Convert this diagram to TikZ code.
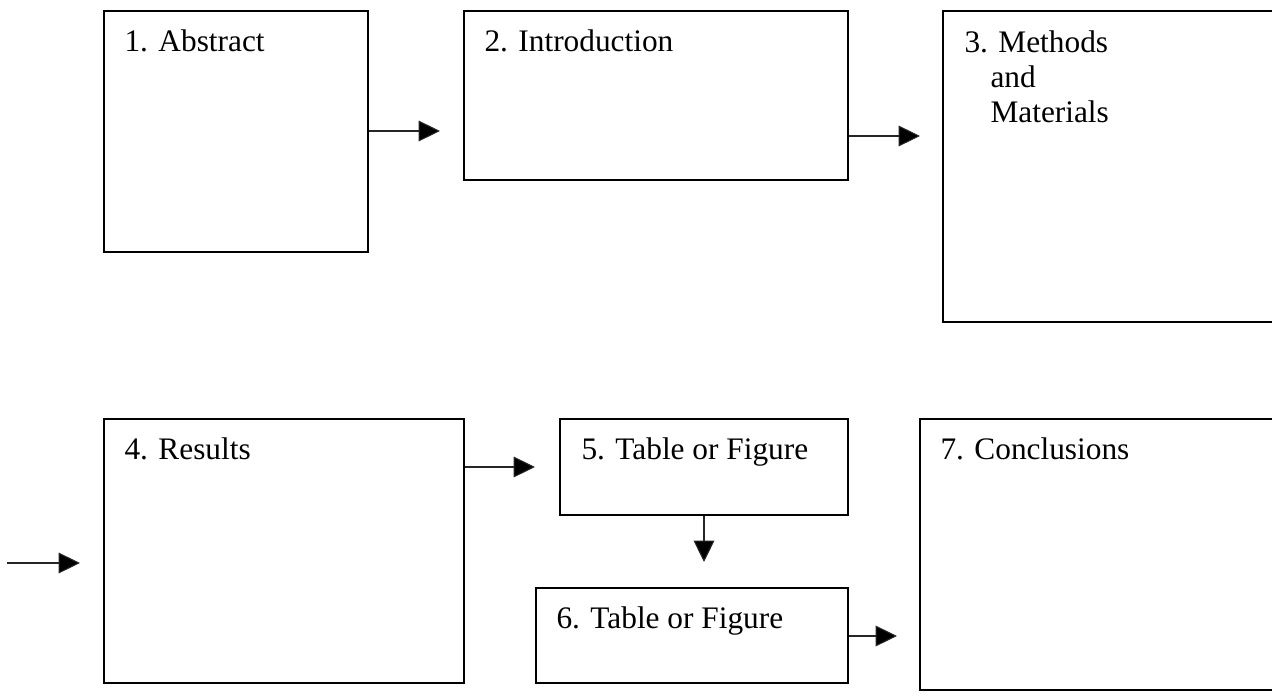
\documentclass[tikz,border=0pt]{standalone}
\usepackage{fontspec}
\setmainfont{Liberation Serif}
\usetikzlibrary{arrows.meta,calc,fit,positioning}

\tikzset{
  stagebox/.style={draw, line width=1.1pt, inner sep=0pt},
  stagelbl/.style={anchor=base west, inner sep=0pt, align=left,
    font=\fontsize{23.5}{26.25}\selectfont},
  flow/.style={line width=0.8pt, draw=black!85,
    -{Triangle[length=16pt,width=15.5pt,fill=black]}},
}

\begin{document}
\begin{tikzpicture}[x=0.75pt,y=0.75pt,yscale=-1,xscale=1]
            \useasboundingbox (0,0) rectangle (1272,700);
            \clip (0,0) rectangle (1272,700);

            % Top row
            \node[stagebox, fit={(104,11) (368,252)}] (abstract) {};
            \node[stagebox, fit={(464,11) (848,180)}] (intro) {};
            \node[stagebox, fit={(943,11) (1290,322)}] (methods) {};

            % Bottom row
            \node[stagebox, fit={(104,419) (464,683)}] (results) {};
            \node[stagebox, fit={(560,419) (848,515)}] (tableA) {};
            \node[stagebox, fit={(536,588) (848,683)}] (tableB) {};
            \node[stagebox, fit={(920,419) (1290,690)}] (concl) {};

            % Text Node
            \node[stagelbl] (abstractlbl) at ($(abstract.north west)+(21,41)$) {1. Abstract};
            \node[stagelbl] (introlbl) at ($(intro.north west)+(21,41)$) {2. Introduction};
            % multi-line: base is the last line
            \node[stagelbl] (methodslbl) at ($(methods.north west)+(22,112)$)
              {3. Methods\\\hspace*{19.5pt}and\\\hspace*{19.5pt}Materials};
            \node[stagelbl] (resultslbl) at ($(results.north west)+(21,41)$) {4. Results};
            \node[stagelbl] (tableAlbl) at ($(tableA.north west)+(22,41)$) {5. Table or Figure};
            \node[stagelbl] (tableBlbl) at ($(tableB.north west)+(21,41)$) {6. Table or Figure};
            \node[stagelbl] (concllbl) at ($(concl.north west)+(21,41)$) {7. Conclusions};

            % Arrows
            \coordinate (tip12) at (440,131);
            \coordinate (tip23) at (920,136);
            \coordinate (start3) at (7,563);
            \coordinate (tip34) at (80,563);
            \coordinate (tip45) at (535,467);
            \coordinate (tip56) at (704,562);
            \coordinate (tip67) at (897,636);
            \draw[flow] (abstract.east |- tip12) -- (tip12);
            \draw[flow] (intro.east |- tip23) -- (tip23);
            \draw[flow] (start3) -- (tip34);
            \draw[flow] (results.east |- tip45) -- (tip45);
            \draw[flow] (tableA.south -| tip56) -- (tip56);
            \draw[flow] (tableB.east |- tip67) -- (tip67);
        \end{tikzpicture}
\end{document}
